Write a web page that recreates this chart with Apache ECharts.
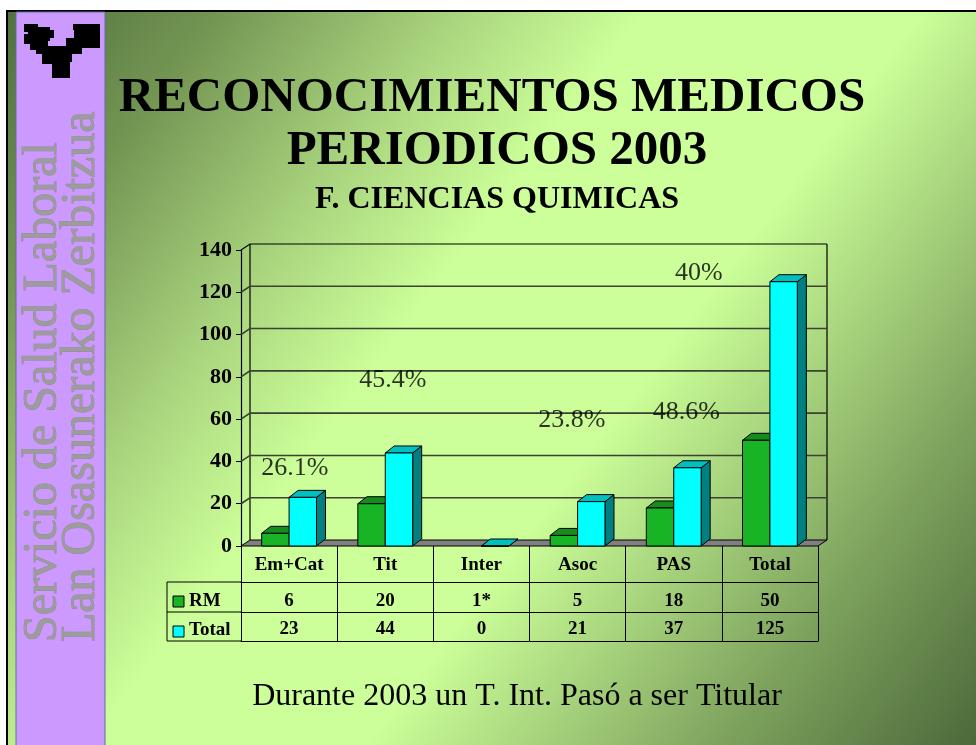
<!DOCTYPE html>
<html>
<head>
<meta charset="utf-8">
<title>Reconocimientos medicos periodicos 2003</title>
<script src="https://cdn.jsdelivr.net/npm/echarts@6/dist/echarts.min.js"></script>
<style>
  html, body { margin: 0; padding: 0; background: #fff; }
  #main { width: 976px; height: 745px; }
</style>
</head>
<body>
<div id="main"></div>
<script>
const categories = ['Em+Cat', 'Tit', 'Inter', 'Asoc', 'PAS', 'Total'];
// "1*" es texto en la hoja: no se dibuja como barra
const rmValues = [6, 20, '1*', 5, 18, 50];
const totalValues = [23, 44, 0, 21, 37, 125];
const yTicks = [0, 20, 40, 60, 80, 100, 120, 140];
const pctLabels = ['26.1%', '45.4%', '23.8%', '48.6%', '40%'];
const pctX = [0.56, 1.58, 3.44, 4.63, 4.76];
const pctY = [37, 78.5, 59.5, 63.5, 129];

const chart = echarts.init(document.getElementById('main'));
const serif = "'Liberation Serif', 'DejaVu Serif', serif";

// profundidad 3D
const DX = 9, DY = -6;
const BDX = 9, BDY = -7;

function renderFrame(params, api) {
  const v = api.value(1);
  const bw = api.size([1, 0])[0];
  const p = api.coord([0, v]);
  const xl = p[0] - bw / 2;
  const xr = api.coord([categories.length - 1, v])[0] + bw / 2;
  const y = p[1];
  const vmax = yTicks[yTicks.length - 1];
  const children = [];
  if (v === yTicks[0]) {
    const top = api.coord([0, vmax])[1];
    children.push({ type: 'polyline', shape: { points: [[xl + DX, y + DY], [xl + DX, top + DY]] }, style: { stroke: '#000', lineWidth: 1.2, fill: null } });
    children.push({ type: 'polyline', shape: { points: [[xr + DX, y + DY], [xr + DX, top + DY]] }, style: { stroke: '#000', lineWidth: 1.2, fill: null } });
    children.push({ type: 'polygon', shape: { points: [[xl, y], [xr, y], [xr + DX, y + DY], [xl + DX, y + DY]] }, style: { fill: '#808080', stroke: '#000', lineWidth: 1 } });
  } else {
    children.push({
      type: 'polyline',
      shape: { points: [[xl, y], [xl + DX, y + DY], [xr + DX, y + DY]] },
      style: { stroke: v === vmax ? '#000' : '#3a4232', lineWidth: v === vmax ? 1.2 : 1.6, fill: null }
    });
  }
  return { type: 'group', children: children };
}

function barRenderer(shift, c) {
  return function (params, api) {
    const val = api.value(1);
    if (isNaN(val)) return;
    const idx = api.value(0);
    const top = api.coord([idx, val]);
    const base = api.coord([idx, 0]);
    const w = api.size([1, 0])[0] * 0.285;
    const x0 = top[0] + shift * w;
    const x1 = x0 + w;
    const yt = top[1], yb = base[1];
    return {
      type: 'group',
      children: [
        { type: 'polygon', shape: { points: [[x1, yt], [x1 + BDX, yt + BDY], [x1 + BDX, yb + BDY], [x1, yb]] }, style: { fill: c.side, stroke: '#000', lineWidth: 1 } },
        { type: 'polygon', shape: { points: [[x0, yt], [x1, yt], [x1 + BDX, yt + BDY], [x0 + BDX, yt + BDY]] }, style: { fill: c.top, stroke: '#000', lineWidth: 1 } },
        { type: 'rect', shape: { x: x0, y: yt, width: w, height: yb - yt }, style: { fill: c.front, stroke: '#000', lineWidth: 1 } }
      ]
    };
  };
}

const tableFont = { fontFamily: serif, fontWeight: 'bold', fontSize: 19, color: '#000' };

const sideText = {
  fill: '#9c9c9c', font: '48px ' + serif,
  textAlign: 'left', textVerticalAlign: 'middle',
  stroke: '#8a8a8a', lineWidth: 0.8,
  textShadowColor: 'rgba(30,30,30,0.9)', textShadowOffsetX: 2, textShadowOffsetY: 2
};

const option = {
  animation: false,
  backgroundColor: '#ffffff',
  grid: { left: 241, right: 158, top: 250, bottom: 199 },
  xAxis: [
    {
      type: 'category', data: categories,
      axisLine: { show: false },
      axisTick: { show: true, length: 95, lineStyle: { color: '#000', width: 1 } },
      axisLabel: Object.assign({ interval: 0, margin: 10 }, tableFont),
      splitLine: { show: false }
    },
    {
      type: 'category', data: categories, position: 'bottom', offset: 36,
      axisLine: { show: true, lineStyle: { color: '#000', width: 1 } },
      axisTick: { show: false },
      axisLabel: Object.assign({ interval: 0, margin: 10, formatter: (v, i) => String(rmValues[i]) }, tableFont)
    },
    {
      type: 'category', data: categories, position: 'bottom', offset: 66,
      axisLine: { show: true, lineStyle: { color: '#000', width: 1 } },
      axisTick: { show: false },
      axisLabel: Object.assign({ interval: 0, margin: 8, formatter: (v, i) => String(totalValues[i]) }, tableFont)
    },
    {
      type: 'category', data: categories, position: 'bottom', offset: 95,
      axisLine: { show: true, lineStyle: { color: '#000', width: 1 } },
      axisTick: { show: false }, axisLabel: { show: false }
    },
    { type: 'value', min: 0, max: categories.length, show: false }
  ],
  yAxis: {
    type: 'value', min: 0, max: 140, interval: 20,
    axisLine: { show: true, lineStyle: { color: '#000', width: 1.2 } },
    axisTick: { show: true, length: 5, lineStyle: { color: '#000' } },
    axisLabel: { fontFamily: serif, fontWeight: 'bold', fontSize: 22, color: '#000', margin: 9 },
    splitLine: { show: false }
  },
  series: [
    {
      type: 'custom', name: 'frame', z: 1, silent: true,
      renderItem: renderFrame,
      encode: { x: 0, y: 1 },
      data: yTicks.map(v => [0, v])
    },
    {
      type: 'custom', name: 'RM', z: 3,
      renderItem: barRenderer(-1, { front: '#19b326', top: '#148c1e', side: '#0f6b16' }),
      encode: { x: 0, y: 1 },
      data: rmValues.map((v, i) => [i, typeof v === 'number' ? v : '-'])
    },
    {
      type: 'custom', name: 'Total', z: 4,
      renderItem: barRenderer(0, { front: '#00ffff', top: '#00bfbf', side: '#008080' }),
      encode: { x: 0, y: 1 },
      data: totalValues.map((v, i) => [i, v])
    },
    {
      type: 'scatter', xAxisIndex: 4, yAxisIndex: 0, z: 5, symbolSize: 0, silent: true,
      data: pctLabels.map((t, i) => [pctX[i], pctY[i]]),
      label: {
        show: true, position: 'inside', color: '#000', fontFamily: serif, fontSize: 26,
        formatter: p => pctLabels[p.dataIndex]
      }
    }
  ],
  graphic: [
    {
      type: 'rect', z: -10, silent: true,
      shape: { x: 6, y: 10, width: 970, height: 735 },
      style: {
        fill: new echarts.graphic.LinearGradient(0, 0, 1, 1, [
          { offset: 0, color: '#50703d' },
          { offset: 0.14, color: '#739553' },
          { offset: 0.3, color: '#abd67f' },
          { offset: 0.42, color: '#ccff99' },
          { offset: 0.6, color: '#ccff99' },
          { offset: 0.83, color: '#7ea35e' },
          { offset: 1, color: '#4c693a' }
        ])
      }
    },
    { type: 'rect', z: -5, shape: { x: 6, y: 10, width: 970, height: 2 }, style: { fill: '#000' } },
    { type: 'rect', z: -5, shape: { x: 6, y: 10, width: 2, height: 735 }, style: { fill: '#000' } },
    { type: 'rect', z: -5, shape: { x: 16, y: 12, width: 89, height: 740 }, style: { fill: '#cc99ff', stroke: '#5f6f9f', lineWidth: 1 } },
    // logo
    {
      type: 'group', z: -4,
      children: [
        [24, 24, 14, 8], [28, 27, 22, 14], [24, 34, 12, 10], [30, 40, 18, 10], [36, 46, 12, 8],
        [44, 30, 10, 8], [73, 24, 10, 6], [80, 24, 20, 24], [74, 30, 10, 12], [66, 38, 16, 16],
        [48, 46, 24, 16], [52, 60, 18, 18], [42, 54, 12, 10], [60, 48, 10, 6]
      ].map(r => ({ type: 'rect', shape: { x: r[0], y: r[1], width: r[2], height: r[3] }, style: { fill: '#000' } }))
    },
    { type: 'text', z: -3, x: 43, y: 642, rotation: Math.PI / 2, style: Object.assign({ text: 'Servicio de Salud Laboral' }, sideText) },
    { type: 'text', z: -3, x: 81, y: 642, rotation: Math.PI / 2, style: Object.assign({ text: 'Lan Osasunerako Zerbitzua' }, sideText) },
    // titulos
    { type: 'text', z: 10, x: 492, y: 98, style: { text: 'RECONOCIMIENTOS MEDICOS', fill: '#000', font: 'bold 49px ' + serif, textAlign: 'center', textVerticalAlign: 'middle' } },
    { type: 'text', z: 10, x: 497, y: 151, style: { text: 'PERIODICOS 2003', fill: '#000', font: 'bold 49px ' + serif, textAlign: 'center', textVerticalAlign: 'middle' } },
    { type: 'text', z: 10, x: 497, y: 200, style: { text: 'F. CIENCIAS QUIMICAS', fill: '#000', font: 'bold 32px ' + serif, textAlign: 'center', textVerticalAlign: 'middle' } },
    // columna de leyenda de la tabla
    { type: 'polyline', z: 6, shape: { points: [[241, 582], [167, 582], [167, 641], [241, 641]] }, style: { stroke: '#000', lineWidth: 1, fill: null } },
    { type: 'polyline', z: 6, shape: { points: [[167, 612], [241, 612]] }, style: { stroke: '#000', lineWidth: 1, fill: null } },
    { type: 'rect', z: 6, shape: { x: 173, y: 596, width: 11, height: 11 }, style: { fill: '#19b326', stroke: '#000', lineWidth: 1 } },
    { type: 'rect', z: 6, shape: { x: 173, y: 626, width: 11, height: 11 }, style: { fill: '#00ffff', stroke: '#000', lineWidth: 1 } },
    { type: 'text', z: 6, x: 189, y: 601, style: { text: 'RM', fill: '#000', font: 'bold 19px ' + serif, textAlign: 'left', textVerticalAlign: 'middle' } },
    { type: 'text', z: 6, x: 189, y: 630, style: { text: 'Total', fill: '#000', font: 'bold 19px ' + serif, textAlign: 'left', textVerticalAlign: 'middle' } },
    // nota
    { type: 'text', z: 10, x: 517, y: 697, style: { text: 'Durante 2003 un T. Int. Pasó a ser Titular', fill: '#000', font: '32px ' + serif, textAlign: 'center', textVerticalAlign: 'middle' } }
  ]
};

chart.setOption(option);
window.addEventListener('resize', function () { chart.resize(); });
</script>
</body>
</html>
